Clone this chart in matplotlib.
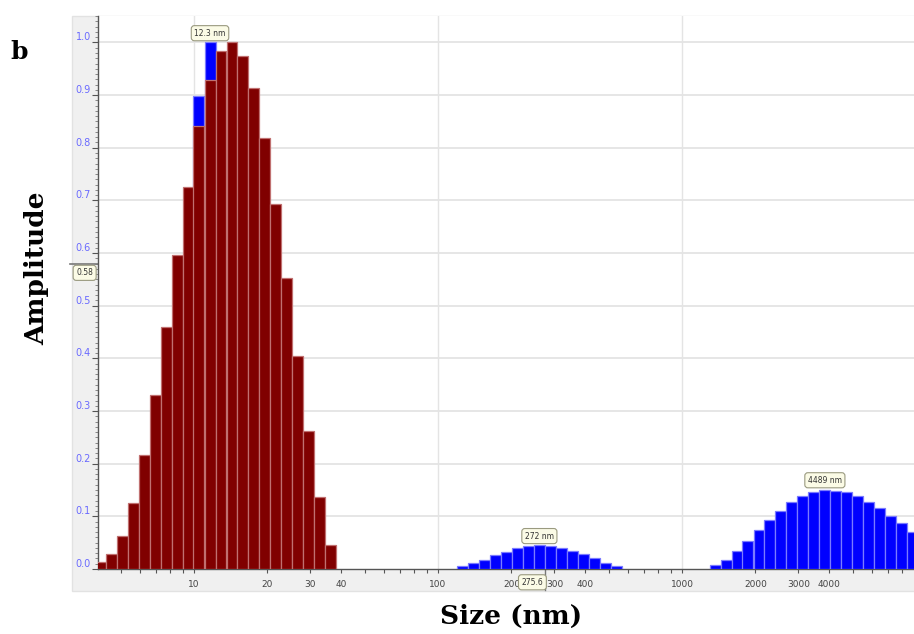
import numpy as np
import matplotlib
matplotlib.use('Agg')
import matplotlib.pyplot as plt
from matplotlib.patches import Rectangle
from matplotlib.ticker import FixedLocator, LogLocator, MultipleLocator, NullFormatter

# 1. Данные (читались с картинки)
# первый пик (бордовый), центры бинов в нм и амплитуды
size_peak1 = [4.13, 4.58, 5.08, 5.63, 6.24, 6.93, 7.68, 8.52, 9.45, 10.48, 11.63,
              12.90, 14.31, 15.87, 17.60, 19.52, 21.65, 24.01, 26.64, 29.54, 32.77, 36.35]
amp_peak1 = [0.013, 0.028, 0.063, 0.126, 0.217, 0.330, 0.460, 0.596, 0.726, 0.841, 0.928,
             0.983, 1.000, 0.975, 0.914, 0.818, 0.694, 0.552, 0.404, 0.262, 0.137, 0.046]

# синие "шапки" над двумя бинами первого пика
size_cap = [10.48, 11.63]
amp_cap = [0.898, 1.000]

# второй пик (синий)
size_peak2 = [126.0, 139.8, 155.1, 172.0, 190.8, 211.6, 234.7, 260.3, 288.8, 320.3,
              355.3, 394.1, 437.1, 484.9, 537.8]
amp_peak2 = [0.006, 0.012, 0.018, 0.026, 0.032, 0.039, 0.043, 0.045, 0.044, 0.040,
             0.034, 0.028, 0.020, 0.012, 0.005]

# третий пик (синий)
size_peak3 = [1366, 1515, 1681, 1864, 2068, 2294, 2544, 2822, 3130, 3472, 3851, 4272,
              4738, 5256, 5830, 6466, 7170, 7952, 8821]
amp_peak3 = [0.008, 0.018, 0.035, 0.054, 0.074, 0.093, 0.111, 0.128, 0.139, 0.146,
             0.151, 0.149, 0.146, 0.139, 0.128, 0.115, 0.101, 0.087, 0.070]

peak_sizes = [11.63, 260.3, 3851]
peak_labels = ['12.3 nm', '272 nm', '4489 nm']

x_ticks = [10, 20, 30, 40, 100, 200, 300, 400, 1000, 2000, 3000, 4000]
cursor_y = 0.58
cursor_x = 275.6

bin_ratio = 10 ** 0.045   # ширина бина в логарифмической шкале

RED = '#800000'
BLUE = '#0000ff'


def draw_bars(ax, sizes, amps, color, edge):
    c = np.array(sizes)
    left = c / np.sqrt(bin_ratio)
    width = c * np.sqrt(bin_ratio) - left
    ax.bar(left, amps, width=width, align='edge', color=color,
           edgecolor=edge, linewidth=0.9, zorder=3)


# 2. Построение
fig = plt.figure(figsize=(9.14, 6.34), dpi=100)

# серая подложка под подписями осей
fig.patches.append(Rectangle((0.0785, 0.068), 0.93, 0.907, transform=fig.transFigure,
                             facecolor='#f0f0f0', edgecolor='#e2e2e2', lw=1, zorder=-5))

ax = fig.add_axes([0.1072, 0.1025, 0.8928, 0.8725])
ax.set_facecolor('white')
ax.set_xscale('log')
ax.set_xlim(4.04, 8930)
ax.set_ylim(0, 1.0505)

draw_bars(ax, size_cap, amp_cap, BLUE, '#7b7bff')
draw_bars(ax, size_peak1, amp_peak1, RED, '#c07070')
draw_bars(ax, size_peak2, amp_peak2, BLUE, '#7b7bff')
draw_bars(ax, size_peak3, amp_peak3, BLUE, '#7b7bff')

# сетка
for yv in np.arange(0.1, 1.01, 0.1):
    ax.axhline(yv, color='#e4e4e4', lw=1.3, zorder=1)
for xv in [10, 100, 1000]:
    ax.axvline(xv, color='#e4e4e4', lw=1.0, zorder=1)

# оси
for s in ['top', 'right']:
    ax.spines[s].set_visible(False)
for s in ['left', 'bottom']:
    ax.spines[s].set_color('#555555')
    ax.spines[s].set_linewidth(1.0)

ax.xaxis.set_major_locator(FixedLocator(x_ticks))
ax.set_xticklabels([str(v) for v in x_ticks])
ax.xaxis.set_minor_locator(LogLocator(base=10, subs=range(1, 10), numticks=20))
ax.xaxis.set_minor_formatter(NullFormatter())
ax.tick_params(axis='x', which='both', length=3, width=0.8, color='#555555',
               pad=5, labelsize=6.5, labelcolor='#444444')

ax.yaxis.set_major_locator(MultipleLocator(0.1))
ax.yaxis.set_minor_locator(MultipleLocator(0.01))
ax.yaxis.set_major_formatter(plt.FormatStrFormatter('%.1f'))
ax.tick_params(axis='y', which='major', length=4, width=0.8, color='#555555',
               pad=1, labelsize=7, labelcolor='#6a6aff')
ax.tick_params(axis='y', which='minor', length=2, width=0.6, color='#777777')
for t in ax.get_yticklabels():
    t.set_verticalalignment('bottom')

# подписи пиков
box = dict(boxstyle='round,pad=0.4', facecolor='#fbfbe6', edgecolor='#9a9a80', lw=0.8)
all_amps = [amp_peak1, amp_peak2, amp_peak3]
for ps, lab, amps in zip(peak_sizes, peak_labels, all_amps):
    ax.text(ps, max(amps) + 0.009, lab, fontsize=5.5, color='#333333',
            ha='center', va='bottom', bbox=box, zorder=5)

# курсоры
ax.plot([-0.034, 0], [cursor_y, cursor_y], color='#777777', lw=1.2,
        transform=ax.get_yaxis_transform(), clip_on=False)
ax.text(-0.006, cursor_y - 0.009, f'{cursor_y:.2f}', fontsize=5.5, color='#333333',
        ha='right', va='top', transform=ax.get_yaxis_transform(), bbox=box)
ax.plot([cursor_x, cursor_x], [0, -0.038], color='#777777', lw=1.0,
        transform=ax.get_xaxis_transform(), clip_on=False)
ax.text(cursor_x * 0.98, -0.024, f'{cursor_x}', fontsize=5.5, color='#333333',
        ha='right', va='center', transform=ax.get_xaxis_transform(), bbox=box)

# подписи осей
fig.text(0.0405, 0.577, 'Amplitude', rotation=90, ha='center', va='center',
         fontsize=19, fontweight='bold', family='DejaVu Serif')
fig.text(0.559, 0.027, 'Size (nm)', ha='center', va='center',
         fontsize=19, fontweight='bold', family='DejaVu Serif')
fig.text(0.011, 0.918, 'b', ha='left', va='center',
         fontsize=18, fontweight='bold', family='DejaVu Serif')

fig.savefig('out.png', dpi=100)
